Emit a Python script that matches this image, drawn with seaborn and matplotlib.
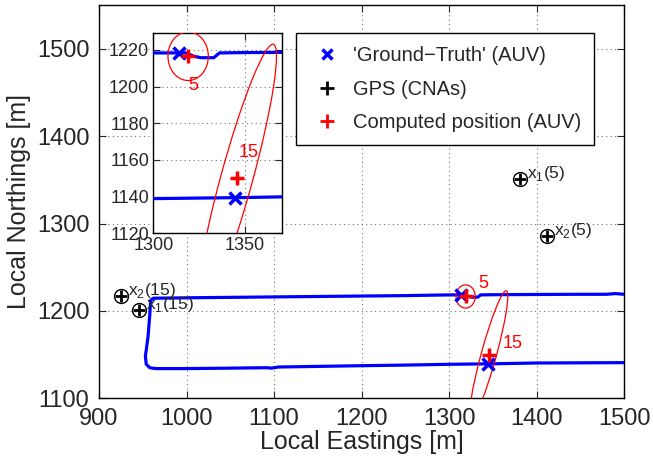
import numpy as np
import pandas as pd
import matplotlib
matplotlib.use('Agg')
import matplotlib.pyplot as plt
import seaborn as sns
from matplotlib.patches import Ellipse
from matplotlib.lines import Line2D

# lintasan AUV (ground truth)
traj_east = [1500, 1450, 1400, 1350, 1300, 1250, 1200, 1150, 1105, 1097, 1092, 1050, 1000,
             965, 958, 954, 953, 956, 958, 959, 962, 1000, 1050, 1100, 1150, 1200, 1250,
             1300, 1318, 1322, 1326, 1333, 1336, 1350, 1400, 1450, 1480, 1490, 1500]
traj_north = [1140.8, 1140.6, 1140.4, 1139.5, 1138.9, 1138, 1137.3, 1136.5, 1135.8, 1134.5,
              1135, 1134.5, 1134, 1134, 1135, 1139, 1148, 1170, 1195, 1212, 1214.5, 1215,
              1215.5, 1216, 1216.5, 1217, 1217.5, 1218.3, 1218.3, 1216.5, 1215.7, 1215.7,
              1218.3, 1218.5, 1218.8, 1219, 1219, 1219.8, 1219]

# posisi ground truth & posisi hasil hitung
gt_east = [1314, 1344.5]
gt_north = [1218.3, 1139]
comp_east = [1319, 1345.5]
comp_north = [1216.5, 1150]

# elips ketidakpastian (pusat = posisi hasil hitung)
ell_width = [22, 151.4]
ell_height = [26.5, 17.4]
ell_angle = [0, 74.7]
ell_labels = ['5', '15']
ell_lbl_main = [(1339, 1231), (1373, 1163)]
ell_lbl_inset = [(1322, 1200.5), (1352, 1164.3)]

# GPS CNA
gps_east = [1381, 1411.7, 924.8, 946]
gps_north = [1351.4, 1285.5, 1216.9, 1201]
gps_labels = [r'$\mathrm{x}_1\mathrm{(5)}$', r'$\mathrm{x}_2\mathrm{(5)}$',
              r'$\mathrm{x}_2\mathrm{(15)}$', r'$\mathrm{x}_1\mathrm{(15)}$']

df = pd.DataFrame({'East': traj_east, 'North': traj_north})

sns.set_style('white')
plt.rcParams['font.family'] = ['Liberation Sans', 'DejaVu Sans']
plt.rcParams['mathtext.fontset'] = 'custom'
plt.rcParams['mathtext.rm'] = 'Liberation Sans'

fig = plt.figure(figsize=(6.53, 4.61), dpi=100)
ax = fig.add_axes([99 / 653, 1 - 398.3 / 461, 525 / 653, 393.3 / 461])
ax_in = fig.add_axes([153.3 / 653, 1 - 233.3 / 461, 128.4 / 653, 200 / 461])


def draw(a, lbl_pos, gps=False):
    sns.lineplot(data=df, x='East', y='North', sort=False, estimator=None,
                 color='#0000ff', linewidth=2.3, ax=a, zorder=3)
    for w, h, ang, t, p, ce, cn in zip(ell_width, ell_height, ell_angle, ell_labels,
                                       lbl_pos, comp_east, comp_north):
        a.add_patch(Ellipse((ce, cn), w, h, angle=ang, fill=False, color='red',
                            lw=0.9, zorder=4))
        a.text(p[0], p[1], t, color='red', fontsize=13, ha='center', va='center')
    a.plot(gt_east, gt_north, 'x', color='#0000ff', ms=8, mew=2.5, zorder=5)
    a.plot(comp_east, comp_north, '+', color='red', ms=10, mew=2.5, zorder=6)
    if gps:
        a.plot(gps_east, gps_north, 'o', mfc='none', mec='black', ms=10, mew=1, zorder=6)
        a.plot(gps_east, gps_north, '+', color='black', ms=8, mew=2, zorder=6)
        for e, n, t in zip(gps_east, gps_north, gps_labels):
            a.annotate(t, xy=(e, n), xytext=(5, 0.5), textcoords='offset points',
                       fontsize=12.5, va='baseline', ha='left', zorder=7)
    a.grid(True, linestyle=(0, (1, 3)), color='0.45', linewidth=0.8)
    a.tick_params(direction='in', top=True, right=True, length=5, width=0.8,
                  bottom=True, left=True)
    for s in a.spines.values():
        s.set_color('black')
        s.set_linewidth(1)
    a.set_xlabel('')
    a.set_ylabel('')


draw(ax, ell_lbl_main, gps=True)
ax.set_xlim(900, 1500)
ax.set_ylim(1100, 1550)
ax.set_xticks([900, 1000, 1100, 1200, 1300, 1400, 1500])
ax.set_yticks([1100, 1200, 1300, 1400, 1500])
ax.tick_params(labelsize=17, pad=7)
ax.set_xlabel('Local Eastings [m]', fontsize=18, labelpad=0)
ax.set_ylabel('Local Northings [m]', fontsize=18, labelpad=4)

draw(ax_in, ell_lbl_inset)
ax_in.set_xlim(1300, 1370)
ax_in.set_ylim(1120, 1229)
ax_in.set_xticks([1300, 1350])
ax_in.set_yticks([1120, 1140, 1160, 1180, 1200, 1220])
ax_in.tick_params(labelsize=13, pad=3)
ax_in.set_facecolor('white')

handles = [Line2D([], [], ls='none', marker='x', color='#0000ff', ms=7, mew=2.5),
           Line2D([], [], ls='none', marker='+', color='black', ms=10, mew=2),
           Line2D([], [], ls='none', marker='+', color='red', ms=10, mew=2)]
labels = ["'Ground\u2212Truth' (AUV)", 'GPS (CNAs)', 'Computed position (AUV)']
leg = ax.legend(handles, labels, loc='upper left',
                bbox_to_anchor=(295.7 / 653, 1 - 33.3 / 461), bbox_transform=fig.transFigure,
                fontsize=14.5, frameon=True, fancybox=False, framealpha=1,
                edgecolor='black', borderpad=0.65, handlelength=1.8, handletextpad=0.4,
                labelspacing=0.72, borderaxespad=0)
leg.get_frame().set_linewidth(1)

fig.savefig('out.png', dpi=100)
